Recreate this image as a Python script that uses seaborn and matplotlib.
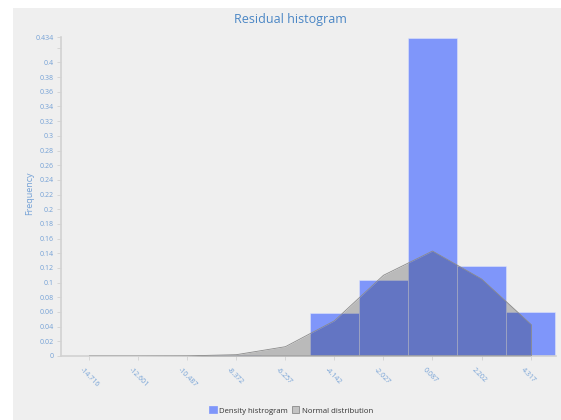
import numpy as np
import pandas as pd
import matplotlib
matplotlib.use("Agg")
import matplotlib.pyplot as plt
import matplotlib.transforms as mtransforms
from matplotlib.patches import Rectangle, Patch
import seaborn as sns

# Bin centres (also the x tick positions) and the densities drawn on them
bin_centers = [-14.716, -12.601, -10.487, -8.372, -6.257, -4.142, -2.027, 0.087, 2.202, 4.317]
hist_density = [0.0, 0.0, 0.0, 0.001, 0.0, 0.058, 0.104, 0.434, 0.122, 0.060]
normal_density = [0.0, 0.0, 0.0002, 0.0018, 0.0127, 0.048, 0.110, 0.143, 0.105, 0.0436]
x_tick_labels = ["-14.716", "-12.601", "-10.487", "-8.372", "-6.257",
                 "-4.142", "-2.027", "0.087", "2.202", "4.317"]
y_ticks = [0, 0.02, 0.04, 0.06, 0.08, 0.1, 0.12, 0.14, 0.16, 0.18, 0.2, 0.22,
           0.24, 0.26, 0.28, 0.3, 0.32, 0.34, 0.36, 0.38, 0.4, 0.42, 0.434]
y_tick_labels = ["0", "0.02", "0.04", "0.06", "0.08", "0.1", "0.12", "0.14", "0.16",
                 "0.18", "0.2", "0.22", "0.24", "0.26", "0.28", "0.3", "0.32", "0.34",
                 "0.36", "0.38", "0.4", "", "0.434"]

sns.set_theme(style="white")
plt.rcParams["font.family"] = ["Open Sans", "DejaVu Sans"]

PANEL = "#efefef"
BLUE = "#7f96fa"
LABEL = "#74a1d6"
TITLE = "#4a86c5"
AXIS = "#d2d2d2"

df = pd.DataFrame({"center": bin_centers, "density": hist_density,
                   "normal": normal_density})
width = bin_centers[1] - bin_centers[0]
edges = [c - width / 2 for c in bin_centers] + [bin_centers[-1] + width / 2]

fig = plt.figure(figsize=(5.61, 4.20), dpi=100, facecolor="white")
fig.patches.append(Rectangle((13 / 561, 0), 1 - 13 / 561, 1 - 7.5 / 420,
                             transform=fig.transFigure, facecolor=PANEL,
                             edgecolor="none", zorder=-10))
ax = fig.add_axes([61 / 561, 64 / 420, (556 - 61) / 561, (356 - 37.5) / 420])
ax.set_zorder(5)
ax.patch.set_visible(False)

# Density histogram: bar heights come straight from the weights
sns.histplot(data=df, x="center", weights="density", bins=edges, stat="count",
             color=BLUE, alpha=1.0, edgecolor="#dfe4fb", linewidth=0.4,
             ax=ax, zorder=2)

# Normal distribution overlay
ax.fill_between(df["center"], df["normal"], 0, color="black", alpha=0.22,
                linewidth=0, zorder=3)
sns.lineplot(data=df, x="center", y="normal", color="#8a8a8a", linewidth=0.6,
             ax=ax, zorder=4)
ax.plot([bin_centers[-1], bin_centers[-1]], [0, normal_density[-1]],
        color="#8a8a8a", linewidth=0.6, zorder=4)

ax.set_xlim(bin_centers[0] - (89.3 - 61) / 23.17, edges[-1] + 0.04)
ax.set_ylim(0, 0.434)
ax.set_xlabel("")
ax.set_ylabel("")

ax.set_xticks(bin_centers)
ax.set_xticklabels(x_tick_labels, rotation=-45, ha="left", va="top",
                   rotation_mode="anchor", fontsize=5, color=LABEL)
ax.set_yticks(y_ticks)
ax.set_yticklabels(y_tick_labels, fontsize=5, color=LABEL)
ax.tick_params(axis="both", which="major", length=3, width=0.6, color=AXIS,
               direction="out", pad=2, left=True, bottom=True)
ax.tick_params(axis="x", pad=5)

# nudge the slanted x labels so they start just left of their ticks
shift = mtransforms.ScaledTranslation(-6 / 100, 1 / 100, fig.dpi_scale_trans)
for lbl in ax.get_xticklabels():
    lbl.set_transform(lbl.get_transform() + shift)

for side in ("top", "right"):
    ax.spines[side].set_visible(False)
for side in ("left", "bottom"):
    ax.spines[side].set_color(AXIS)
    ax.spines[side].set_linewidth(1.2)

fig.text(290 / 561, 1 - 20 / 420, "Residual histogram", ha="center", va="center",
         fontsize=9, color=TITLE)
fig.text(30 / 561, 1 - 193 / 420, "Frequency", rotation=90, ha="center",
         va="center", fontsize=6.5, color=LABEL)

handles = [Patch(facecolor=BLUE, edgecolor=BLUE, linewidth=0.5),
           Patch(facecolor="#c3c3c3", edgecolor="#8a8a8a", linewidth=0.6)]
fig.legend(handles, ["Density histrogram", "Normal distribution"], ncol=2,
           loc="center", bbox_to_anchor=(291 / 561, 1 - 410.5 / 420),
           frameon=False, fontsize=5.6, handlelength=1.0, handleheight=1.0,
           handletextpad=0.3, columnspacing=0.5, labelcolor="#333333")

fig.savefig("out.png", dpi=100, facecolor="white")
